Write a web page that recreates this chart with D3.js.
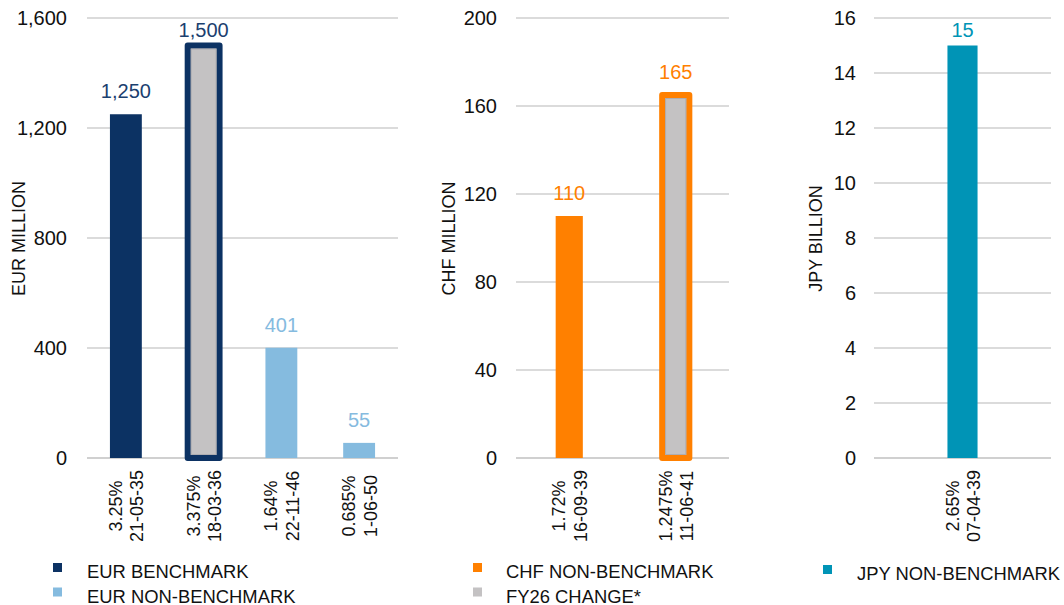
<!DOCTYPE html>
<html>
<head>
<meta charset="utf-8">
<script src="https://cdn.jsdelivr.net/npm/d3@7"></script>
<style>
  html, body { margin: 0; padding: 0; background: #ffffff; }
  svg { display: block; font-family: "Liberation Sans", Arial, sans-serif; }
</style>
</head>
<body>
<svg id="chart" width="1064" height="605"></svg>
<script>
// ---- Outstanding issuance by currency ----
// EUR (million)
const eurCoupons    = ["3.25%", "3.375%", "1.64%", "0.685%"];
const eurMaturities = ["21-05-35", "18-03-36", "22-11-46", "1-06-50"];
const eurValues     = [1250, 1500, 401, 55];
const eurSeries     = ["EUR BENCHMARK", "EUR BENCHMARK", "EUR NON-BENCHMARK", "EUR NON-BENCHMARK"];
const eurFy26Change = [false, true, false, false];
const eurTicks      = [0, 400, 800, 1200, 1600];

// CHF (million)
const chfCoupons    = ["1.72%", "1.2475%"];
const chfMaturities = ["16-09-39", "11-06-41"];
const chfValues     = [110, 165];
const chfSeries     = ["CHF NON-BENCHMARK", "CHF NON-BENCHMARK"];
const chfFy26Change = [false, true];
const chfTicks      = [0, 40, 80, 120, 160, 200];

// JPY (billion)
const jpyCoupons    = ["2.65%"];
const jpyMaturities = ["07-04-39"];
const jpyValues     = [15];
const jpySeries     = ["JPY NON-BENCHMARK"];
const jpyFy26Change = [false];
const jpyTicks      = [0, 2, 4, 6, 8, 10, 12, 14, 16];

const FY26_LABEL = "FY26 CHANGE*";

const colors = {
  "EUR BENCHMARK": "#0c3263",
  "EUR NON-BENCHMARK": "#85bbdf",
  "CHF NON-BENCHMARK": "#ff8000",
  "JPY NON-BENCHMARK": "#0094b6",
  [FY26_LABEL]: "#c4c2c3"
};
const labelColors = {
  "EUR BENCHMARK": "#1b406f",
  "EUR NON-BENCHMARK": "#85bbdf",
  "CHF NON-BENCHMARK": "#ff8000",
  "JPY NON-BENCHMARK": "#0094b6"
};

const svg = d3.select("#chart");
const TOP = 18, BOTTOM = 458;

function drawPanel(p) {
  const g = svg.append("g");
  const rows = p.values.map((v, i) => ({
    key: i, value: v, series: p.series[i], fy26: p.fy26[i],
    coupon: p.coupons[i], maturity: p.maturities[i]
  }));

  const y = d3.scaleLinear()
    .domain([0, d3.max(p.ticks)])
    .range([BOTTOM, TOP]);

  const x = d3.scaleBand()
    .domain(rows.map(d => d.key))
    .range([p.x0, p.x1])
    .paddingInner(p.pad)
    .paddingOuter(p.pad / 2);

  // horizontal gridlines
  g.append("g").selectAll("line")
    .data(p.ticks)
    .join("line")
    .attr("x1", p.x0).attr("x2", p.x1)
    .attr("y1", d => y(d)).attr("y2", d => y(d))
    .attr("stroke", d => d === 0 ? "#d0d0d0" : "#cfcfcf")
    .attr("stroke-width", d => d === 0 ? 2.2 : 1.5);

  // value axis labels
  const yAxis = d3.axisLeft(y)
    .tickValues(p.ticks)
    .tickFormat(p.fmt)
    .tickSize(0)
    .tickPadding(0);
  const ax = g.append("g")
    .attr("transform", `translate(${p.tickX},0)`)
    .call(yAxis);
  ax.select(".domain").remove();
  ax.selectAll("text")
    .attr("font-size", 20)
    .attr("fill", "#111")
    .attr("font-family", "Liberation Sans, Arial, sans-serif");

  // axis title
  g.append("text")
    .attr("transform", `translate(${p.titleX},${(TOP + BOTTOM) / 2 + 0.5}) rotate(-90)`)
    .attr("text-anchor", "middle")
    .attr("font-size", 18)
    .attr("fill", "#111")
    .text(p.title);

  // bars
  const bw = x.bandwidth();
  g.append("g").selectAll("rect")
    .data(rows)
    .join("rect")
    .attr("x", d => x(d.key))
    .attr("width", bw)
    .attr("y", d => y(d.value))
    .attr("height", d => y(0) - y(d.value))
    .attr("fill", d => d.fy26 ? colors[FY26_LABEL] : colors[d.series])
    .attr("stroke", d => d.fy26 ? colors[d.series] : "none")
    .attr("stroke-width", d => d.fy26 ? 6 : 0)
    .attr("stroke-linejoin", "round");

  // thin inner edge on the FY26 change bars
  g.append("g").selectAll("rect")
    .data(rows.filter(d => d.fy26))
    .join("rect")
    .attr("x", d => x(d.key) + 3.5)
    .attr("width", bw - 7)
    .attr("y", d => y(d.value) + 3.5)
    .attr("height", d => y(0) - y(d.value) - 7)
    .attr("fill", "none")
    .attr("stroke", "#a9a8ad")
    .attr("stroke-width", 0.8);

  // value labels above each bar
  g.append("g").selectAll("text")
    .data(rows)
    .join("text")
    .attr("x", d => x(d.key) + bw / 2)
    .attr("y", d => Math.max(y(d.value) - 16, 37))
    .attr("text-anchor", "middle")
    .attr("font-size", 20)
    .attr("fill", d => labelColors[d.series])
    .text(d => p.fmt(d.value));

  // category labels (coupon / maturity), rotated
  const cat = g.append("g").selectAll("text")
    .data(rows)
    .join("text")
    .attr("transform", d => `translate(${x(d.key) + bw / 2},506) rotate(-90)`)
    .attr("text-anchor", "middle")
    .attr("font-size", 18)
    .attr("fill", "#111");
  cat.append("tspan").attr("x", 0).attr("y", -4).text(d => d.coupon);
  cat.append("tspan").attr("x", 0).attr("y", 17.5).text(d => d.maturity);

  // legend
  const lg = g.append("g").selectAll("g")
    .data(p.legend)
    .join("g")
    .attr("transform", (d, i) => `translate(${p.legendX},${p.legendY + i * 24.5})`);
  lg.append("rect")
    .attr("x", 0).attr("y", -15)
    .attr("width", 9).attr("height", 9)
    .attr("fill", d => colors[d]);
  lg.append("text")
    .attr("x", p.legendTextDx).attr("y", 0)
    .attr("font-size", 18.4)
    .attr("fill", "#111")
    .text(d => d);
}

drawPanel({
  coupons: eurCoupons, maturities: eurMaturities, values: eurValues,
  series: eurSeries, fy26: eurFy26Change, ticks: eurTicks,
  fmt: d3.format(","), title: "EUR MILLION",
  x0: 87, x1: 398, pad: 0.59, tickX: 67, titleX: 25,
  legend: ["EUR BENCHMARK", "EUR NON-BENCHMARK"],
  legendX: 53, legendY: 578, legendTextDx: 34
});

drawPanel({
  coupons: chfCoupons, maturities: chfMaturities, values: chfValues,
  series: chfSeries, fy26: chfFy26Change, ticks: chfTicks,
  fmt: d3.format(","), title: "CHF MILLION",
  x0: 516, x1: 729, pad: 0.745, tickX: 497, titleX: 455,
  legend: ["CHF NON-BENCHMARK", FY26_LABEL],
  legendX: 473, legendY: 578, legendTextDx: 33
});

drawPanel({
  coupons: jpyCoupons, maturities: jpyMaturities, values: jpyValues,
  series: jpySeries, fy26: jpyFy26Change, ticks: jpyTicks,
  fmt: d3.format(","), title: "JPY BILLION",
  x0: 874, x1: 1051, pad: 0.83, tickX: 856, titleX: 822,
  legend: ["JPY NON-BENCHMARK"],
  legendX: 823, legendY: 580, legendTextDx: 34
});
</script>
</body>
</html>
